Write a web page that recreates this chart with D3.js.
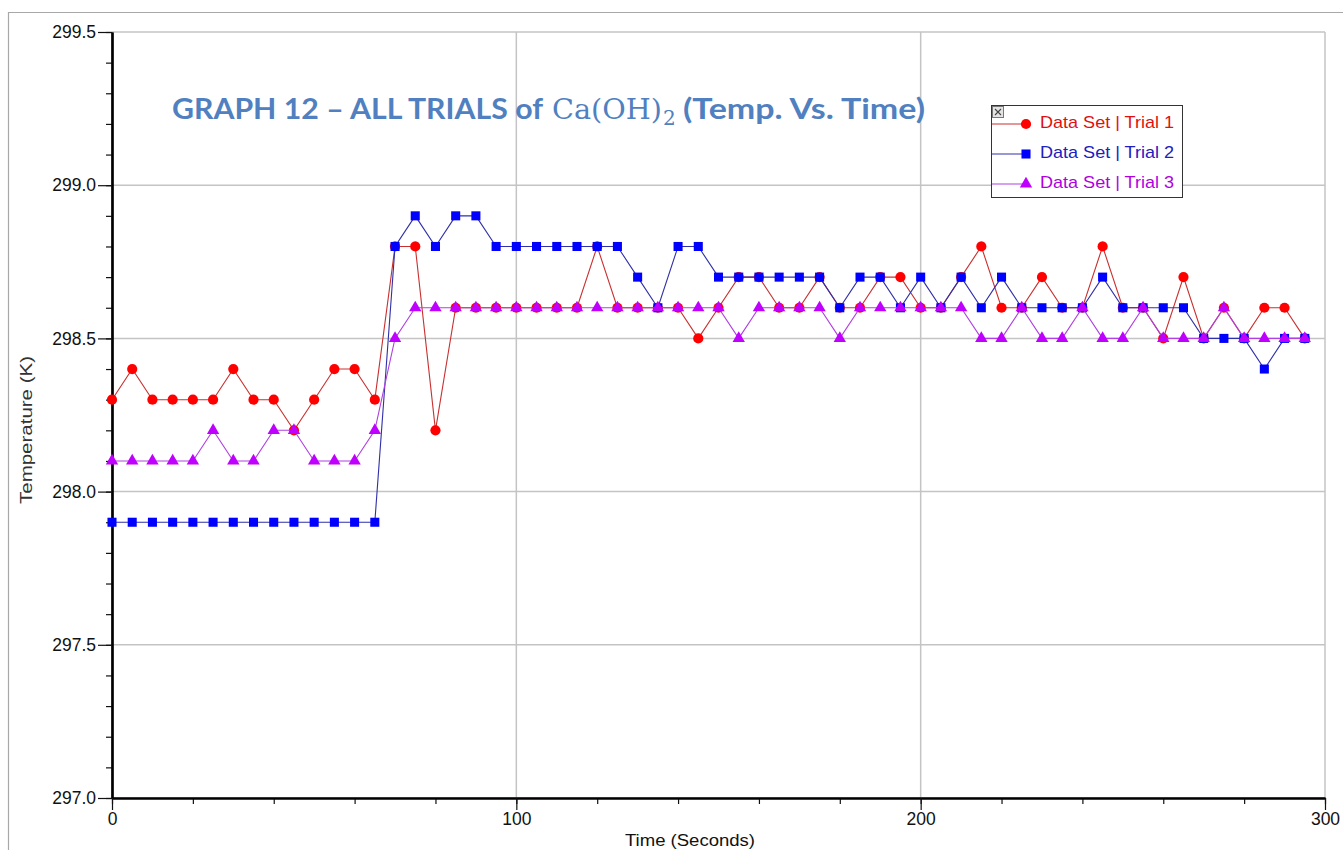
<!DOCTYPE html>
<html>
<head>
<meta charset="utf-8">
<script src="https://cdn.jsdelivr.net/npm/d3@7/dist/d3.min.js"></script>
<style>
  html, body { margin: 0; padding: 0; background: #fff; }
  svg { display: block; }
</style>
</head>
<body>
<svg id="chart" width="1343" height="850"></svg>
<script>
// ---------------- DATA ----------------
const times = [0,5,10,15,20,25,30,35,40,45,50,55,60,65,70,75,80,85,90,95,
  100,105,110,115,120,125,130,135,140,145,150,155,160,165,170,175,180,185,190,195,
  200,205,210,215,220,225,230,235,240,245,250,255,260,265,270,275,280,285,290,295];

const trial1 = [298.3,298.4,298.3,298.3,298.3,298.3,298.4,298.3,298.3,298.2,298.3,298.4,298.4,298.3,298.8,298.8,298.2,298.6,298.6,298.6,
  298.6,298.6,298.6,298.6,298.8,298.6,298.6,298.6,298.6,298.5,298.6,298.7,298.7,298.6,298.6,298.7,298.6,298.6,298.7,298.7,
  298.6,298.6,298.7,298.8,298.6,298.6,298.7,298.6,298.6,298.8,298.6,298.6,298.5,298.7,298.5,298.6,298.5,298.6,298.6,298.5];

const trial2 = [297.9,297.9,297.9,297.9,297.9,297.9,297.9,297.9,297.9,297.9,297.9,297.9,297.9,297.9,298.8,298.9,298.8,298.9,298.9,298.8,
  298.8,298.8,298.8,298.8,298.8,298.8,298.7,298.6,298.8,298.8,298.7,298.7,298.7,298.7,298.7,298.7,298.6,298.7,298.7,298.6,
  298.7,298.6,298.7,298.6,298.7,298.6,298.6,298.6,298.6,298.7,298.6,298.6,298.6,298.6,298.5,298.5,298.5,298.4,298.5,298.5];

const trial3 = [298.1,298.1,298.1,298.1,298.1,298.2,298.1,298.1,298.2,298.2,298.1,298.1,298.1,298.2,298.5,298.6,298.6,298.6,298.6,298.6,
  298.6,298.6,298.6,298.6,298.6,298.6,298.6,298.6,298.6,298.6,298.6,298.5,298.6,298.6,298.6,298.6,298.5,298.6,298.6,298.6,
  298.6,298.6,298.6,298.5,298.5,298.6,298.5,298.5,298.6,298.5,298.5,298.6,298.5,298.5,298.5,298.6,298.5,298.5,298.5,298.5];

const seriesNames = ["Data Set | Trial 1", "Data Set | Trial 2", "Data Set | Trial 3"];
const yTickValues = [297.0, 297.5, 298.0, 298.5, 299.0, 299.5];
const xTickValues = [0, 100, 200, 300];

// ---------------- STYLE ----------------
const styles = [
  { line: "#c83030", marker: "#ff0000", text: "#e01010", shape: d3.symbolCircle,   size: 82 },
  { line: "#3030a8", marker: "#0000ff", text: "#2020c0", shape: d3.symbolSquare,   size: 82 },
  { line: "#b040e0", marker: "#c000ff", text: "#b000e0", shape: d3.symbolTriangle, size: 66 }
];
const seriesData = [trial1, trial2, trial3];

const svg = d3.select("#chart");
const plotLeft = 112, plotRight = 1325, plotTop = 32, plotBottom = 798;

const x = d3.scaleLinear().domain([0, 300]).range([plotLeft, plotRight]);
const y = d3.scaleLinear().domain([297.0, 299.5]).range([plotBottom, plotTop]);

// outer frame
svg.append("line").attr("x1", 8).attr("x2", 1343).attr("y1", 12.5).attr("y2", 12.5)
  .attr("stroke", "#a8a8a8").attr("stroke-width", 1.2);
svg.append("line").attr("x1", 8.5).attr("x2", 8.5).attr("y1", 12).attr("y2", 850)
  .attr("stroke", "#a8a8a8").attr("stroke-width", 1.2);

// grid
const grid = svg.append("g");
grid.selectAll("line.h").data(yTickValues).join("line")
  .attr("x1", plotLeft).attr("x2", plotRight)
  .attr("y1", d => y(d)).attr("y2", d => y(d))
  .attr("stroke", "#c4c4c4").attr("stroke-width", 1.5);
grid.selectAll("line.v").data(xTickValues).join("line")
  .attr("x1", d => x(d)).attr("x2", d => x(d))
  .attr("y1", plotTop).attr("y2", plotBottom)
  .attr("stroke", "#c4c4c4").attr("stroke-width", 1.5);

// axes
const yMinorVals = d3.range(0, 26).map(i => +(297 + i * 0.1).toFixed(1));
const xMinorVals = d3.range(0, 301, 20);

const yMinorAxis = svg.append("g").attr("transform", `translate(${plotLeft},0)`)
  .call(d3.axisLeft(y).tickValues(yMinorVals).tickSize(6).tickSizeOuter(0).tickFormat(""));
const yAxis = svg.append("g").attr("transform", `translate(${plotLeft},0)`)
  .call(d3.axisLeft(y).tickValues(yTickValues).tickSize(14).tickSizeOuter(0).tickPadding(2)
    .tickFormat(d3.format(".1f")));
const xMinorAxis = svg.append("g").attr("transform", `translate(0,${plotBottom})`)
  .call(d3.axisBottom(x).tickValues(xMinorVals).tickSize(6).tickSizeOuter(0).tickFormat(""));
const xAxis = svg.append("g").attr("transform", `translate(0,${plotBottom})`)
  .call(d3.axisBottom(x).tickValues(xTickValues).tickSize(12).tickSizeOuter(0).tickPadding(3)
    .tickFormat(d3.format("d")));

[yMinorAxis, yAxis, xMinorAxis, xAxis].forEach(g => {
  g.selectAll(".tick line").attr("stroke", "#111").attr("stroke-width", 1.2);
  g.select(".domain").attr("stroke", "#000").attr("stroke-width", 2.2);
  g.selectAll("text").attr("font-family", "Liberation Sans, Arial, sans-serif")
    .attr("font-size", 17.5).attr("fill", "#111");
});

// axis titles
svg.append("text")
  .attr("transform", `translate(32,${(plotTop + plotBottom) / 2 + 15}) rotate(-90)`)
  .attr("text-anchor", "middle")
  .attr("font-family", "Liberation Sans, Arial, sans-serif")
  .attr("font-size", 16).attr("fill", "#333")
  .attr("textLength", 148).attr("lengthAdjust", "spacingAndGlyphs")
  .text("Temperature (K)");
svg.append("text")
  .attr("x", 690).attr("y", 846)
  .attr("text-anchor", "middle")
  .attr("font-family", "Liberation Sans, Arial, sans-serif")
  .attr("font-size", 16).attr("fill", "#111")
  .attr("textLength", 130).attr("lengthAdjust", "spacingAndGlyphs")
  .text("Time (Seconds)");

// series
seriesData.forEach((vals, si) => {
  const st = styles[si];
  const pts = times.map((t, i) => [t, vals[i]]);
  const g = svg.append("g");
  g.append("path")
    .datum(pts)
    .attr("fill", "none")
    .attr("stroke", st.line)
    .attr("stroke-width", 1.1)
    .attr("d", d3.line().x(d => x(d[0])).y(d => y(d[1])));
  g.selectAll("path.m").data(pts).join("path")
    .attr("class", "m")
    .attr("transform", d => `translate(${x(d[0])},${y(d[1])})`)
    .attr("d", d3.symbol().type(st.shape).size(st.size))
    .attr("fill", st.marker);
});

// title
const titleColor = "#5080c0";
const tg = svg.append("g").attr("font-weight", "bold").attr("fill", titleColor);
tg.append("text").attr("x", 172).attr("y", 119)
  .attr("font-family", "Lato, Open Sans, sans-serif").attr("font-size", 28)
  .attr("textLength", 371).attr("lengthAdjust", "spacingAndGlyphs")
  .text("GRAPH 12 \u2013 ALL TRIALS of");
tg.append("text").attr("x", 552).attr("y", 119)
  .attr("font-family", "DejaVu Serif, Liberation Serif, serif").attr("font-weight", "normal")
  .attr("font-size", 27)
  .attr("textLength", 110).attr("lengthAdjust", "spacingAndGlyphs")
  .text("Ca(OH)");
tg.append("text").attr("x", 663).attr("y", 125)
  .attr("font-family", "DejaVu Serif, Liberation Serif, serif").attr("font-weight", "normal")
  .attr("font-size", 20)
  .text("2");
tg.append("text").attr("x", 683).attr("y", 119)
  .attr("font-family", "Lato, Open Sans, sans-serif").attr("font-size", 28)
  .attr("textLength", 242).attr("lengthAdjust", "spacingAndGlyphs")
  .text("(Temp. Vs. Time)");

// legend
const lg = svg.append("g");
lg.append("rect").attr("x", 991.5).attr("y", 105.5).attr("width", 191).attr("height", 92)
  .attr("fill", "#fff").attr("stroke", "#333").attr("stroke-width", 1);
lg.append("rect").attr("x", 992.5).attr("y", 106.5).attr("width", 11).attr("height", 11)
  .attr("fill", "#e4e4e4").attr("stroke", "#777");
lg.append("path").attr("d", "M995,109 L1001,115 M1001,109 L995,115")
  .attr("stroke", "#444").attr("stroke-width", 1.1);
const rowY = [122, 152, 182];
seriesNames.forEach((name, i) => {
  const st = styles[i];
  lg.append("line").attr("x1", 992).attr("x2", 1027).attr("y1", rowY[i] + 2).attr("y2", rowY[i] + 2)
    .attr("stroke", st.line).attr("stroke-width", 1.1);
  lg.append("path").attr("transform", `translate(1026,${rowY[i] + 2})`)
    .attr("d", d3.symbol().type(st.shape).size(st.size)).attr("fill", st.marker);
  lg.append("text").attr("x", 1040).attr("y", rowY[i] + 6)
    .attr("font-family", "Liberation Sans, Arial, sans-serif").attr("font-size", 17)
    .attr("fill", st.text)
    .attr("textLength", 134).attr("lengthAdjust", "spacingAndGlyphs")
    .text(name);
});
</script>
</body>
</html>
